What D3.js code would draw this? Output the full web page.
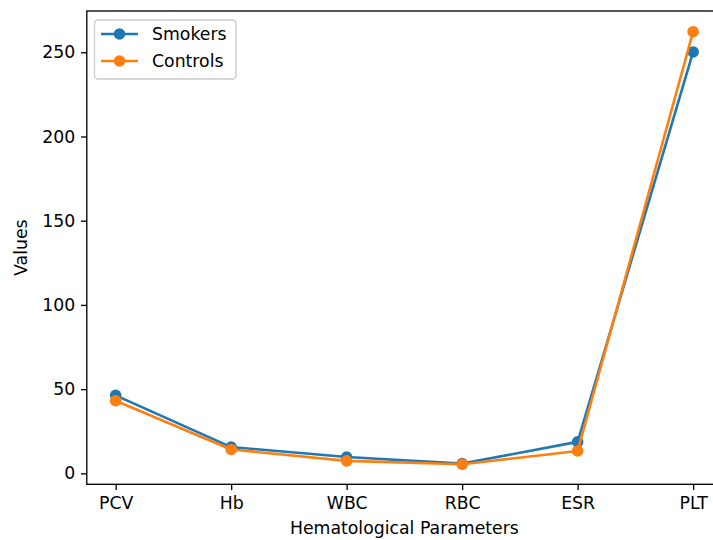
<!DOCTYPE html>
<html>
<head>
<meta charset="utf-8">
<script src="https://cdn.jsdelivr.net/npm/d3@7"></script>
<style>
  html, body { margin: 0; padding: 0; background: #fff; overflow: hidden; }
  svg { display: block; font-family: "DejaVu Sans", sans-serif; }
</style>
</head>
<body>
<script>
const categories = ["PCV", "Hb", "WBC", "RBC", "ESR", "PLT"];
const smokers = [46.3, 15.6, 9.7, 5.8, 18.7, 250.2];
const controls = [43.1, 14.2, 7.4, 5.4, 13.3, 262.2];
const yTicks = [0, 50, 100, 150, 200, 250];
const seriesNames = ["Smokers", "Controls"];
const seriesColors = ["#1f77b4", "#ff7f0e"];

(function () {
const W = 713, H = 540;
const pL = 86.8, pR = 722, pT = 11, pB = 484.3;
const fs = 17.3;

const svg = d3.select("body").append("svg").attr("width", W).attr("height", H);

const x = d3.scaleLinear().domain([-0.25, categories.length - 1 + 0.25]).range([pL, pR]);
const y = d3.scaleLinear().domain([-6.5, 274.5]).range([pB, pT]);

// Lines and markers
const series = [smokers, controls];
const line = d3.line().x((d, i) => x(i)).y(d => y(d));
series.forEach((vals, si) => {
  const g = svg.append("g");
  g.append("path").datum(vals).attr("d", line)
    .attr("fill", "none").attr("stroke", seriesColors[si]).attr("stroke-width", 2.6)
    .attr("stroke-linejoin", "round").attr("stroke-linecap", "square");
  g.selectAll("circle").data(vals).enter().append("circle")
    .attr("cx", (d, i) => x(i)).attr("cy", d => y(d)).attr("r", 5.8)
    .attr("fill", seriesColors[si]);
});

// Axes
const xAxis = d3.axisBottom(x).tickValues(d3.range(categories.length))
  .tickFormat(i => categories[i]).tickSize(5.8).tickPadding(7);
const gx = svg.append("g").attr("transform", `translate(0,${pB})`).call(xAxis);
const yAxis = d3.axisLeft(y).tickValues(yTicks).tickSize(5.8).tickPadding(5.8);
const gy = svg.append("g").attr("transform", `translate(${pL},0)`).call(yAxis);
[gx, gy].forEach(g => {
  g.select(".domain").remove();
  g.selectAll(".tick line").attr("stroke", "#000").attr("stroke-width", 1.33);
  g.selectAll(".tick text").attr("font-size", fs).attr("fill", "#000")
    .attr("font-family", "DejaVu Sans, sans-serif");
});

// Spines
svg.append("rect").attr("x", pL).attr("y", pT).attr("width", pR - pL).attr("height", pB - pT)
  .attr("fill", "none").attr("stroke", "#000").attr("stroke-width", 1.33);

// Axis labels
svg.append("text").attr("x", (pL + pR) / 2).attr("y", 534).attr("text-anchor", "middle")
  .attr("font-size", fs).text("Hematological Parameters");
svg.append("text").attr("transform", `translate(27,${(pT + pB) / 2}) rotate(-90)`)
  .attr("text-anchor", "middle").attr("font-size", fs).text("Values");

// Legend
const lg = svg.append("g");
lg.append("rect").attr("x", 94.5).attr("y", 20).attr("width", 141.5).attr("height", 59)
  .attr("rx", 3.5).attr("fill", "#fff").attr("fill-opacity", 0.8)
  .attr("stroke", "#cccccc").attr("stroke-width", 1.33);
seriesNames.forEach((name, i) => {
  const cy = 34 + i * 27;
  lg.append("line").attr("x1", 101).attr("x2", 138).attr("y1", cy).attr("y2", cy)
    .attr("stroke", seriesColors[i]).attr("stroke-width", 2.6);
  lg.append("circle").attr("cx", 119.5).attr("cy", cy).attr("r", 5.8).attr("fill", seriesColors[i]);
  lg.append("text").attr("x", 152).attr("y", cy).attr("dy", "0.35em")
    .attr("font-size", fs).text(name);
});
})();
</script>
</body>
</html>
